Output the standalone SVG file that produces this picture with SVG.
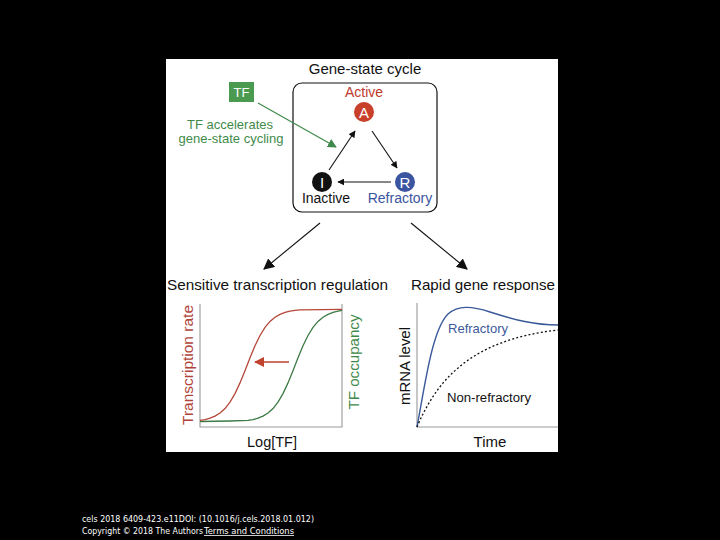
<svg xmlns="http://www.w3.org/2000/svg" width="720" height="540" viewBox="0 0 720 540">
<style>
text{font-family:"Liberation Sans",Arial,sans-serif}
.t{fill:#111}
.red{fill:#b8402f}
.grn{fill:#3f8a4a}
.blu{fill:#3c55a0}
.wht{fill:#fff}
.ltr{fill:#fff;font-size:15px}
.ln{fill:none;stroke:#111;stroke-width:1.1}
.foot{font-family:"DejaVu Sans",sans-serif;font-size:8px;fill:#fff}
</style>
<defs>
<marker id="ah" viewBox="0 0 10 10" refX="9" refY="5" markerWidth="7" markerHeight="7" markerUnits="userSpaceOnUse" orient="auto">
<path d="M0,0 L10,5 L0,10 Z" fill="#111"/>
</marker>
<marker id="ahBig" viewBox="0 0 10 10" refX="9" refY="5" markerWidth="11" markerHeight="11" markerUnits="userSpaceOnUse" orient="auto">
<path d="M0,0 L10,5 L0,10 Z" fill="#111"/>
</marker>
<marker id="ahG" viewBox="0 0 10 10" refX="9" refY="5" markerWidth="9" markerHeight="9" markerUnits="userSpaceOnUse" orient="auto">
<path d="M0,0 L10,5 L0,10 Z" fill="#3f8a4a"/>
</marker>
<marker id="ahR" viewBox="0 0 10 10" refX="9" refY="5" markerWidth="10" markerHeight="10" markerUnits="userSpaceOnUse" orient="auto">
<path d="M0,0 L10,5 L0,10 Z" fill="#c0412e"/>
</marker>
</defs>
<rect x="0" y="0" width="720" height="540" fill="#000"/>
<rect x="166" y="59" width="392" height="393" fill="#fff"/>

<text class="t" x="365" y="74" font-size="15" text-anchor="middle">Gene-state cycle</text>

<g id="cycle-box">
<rect x="293" y="83" width="144" height="129" rx="9" fill="none" stroke="#111" stroke-width="1.2"/>
</g>

<g id="tf">
<rect x="229" y="82" width="25" height="20" fill="#4a9a50"/>
<text class="wht" x="241.5" y="97" font-size="13" text-anchor="middle">TF</text>
<text class="grn" x="230" y="129" font-size="13" text-anchor="middle">TF accelerates</text>
<text class="grn" x="231" y="143" font-size="13" text-anchor="middle">gene-state cycling</text>
</g>

<g id="node-active">
<text x="364" y="97" font-size="14" text-anchor="middle" fill="#c0392b">Active</text>
<circle cx="364" cy="112" r="10" fill="#c8402a"/>
<text class="ltr" x="364" y="117.5" text-anchor="middle">A</text>
</g>
<g id="node-inactive">
<circle cx="322" cy="182" r="10" fill="#111"/>
<text class="ltr" x="322" y="187.5" text-anchor="middle">I</text>
<text class="t" x="326" y="203" font-size="14" text-anchor="middle">Inactive</text>
</g>
<g id="node-refractory">
<circle cx="405" cy="182" r="10" fill="#3c55a0"/>
<text class="ltr" x="405" y="187.5" text-anchor="middle">R</text>
<text class="blu" x="400" y="203" font-size="14" text-anchor="middle">Refractory</text>
</g>

<g id="connectors">
<line class="ln" x1="329" y1="170" x2="355" y2="131" marker-end="url(#ah)"/>
<line class="ln" x1="372" y1="131" x2="397" y2="168" marker-end="url(#ah)"/>
<line class="ln" x1="391" y1="182" x2="338" y2="182" marker-end="url(#ah)"/>
<line x1="258" y1="103" x2="336" y2="147" stroke="#3f8a4a" stroke-width="1.2" marker-end="url(#ahG)"/>
<line class="ln" x1="320" y1="223" x2="264" y2="269" marker-end="url(#ahBig)"/>
<line class="ln" x1="411" y1="223" x2="467" y2="269" marker-end="url(#ahBig)"/>
</g>

<text class="t" x="167" y="290" font-size="15" textLength="221" lengthAdjust="spacingAndGlyphs">Sensitive transcription regulation</text>
<text class="t" x="411" y="290" font-size="15" textLength="144" lengthAdjust="spacingAndGlyphs">Rapid gene response</text>

<g id="plot-left">
<path d="M200,304 L200,427 L342,427 L342,304" fill="none" stroke="#999" stroke-width="1.1"/>
<polyline fill="none" stroke="#3d7a45" stroke-width="1.3" points="200,421.5 230,421 248,420.45 253,419.57 258,418.22 263,416.16 268,413.06 273,408.53 278,402.13 283,393.59 288,382.89 293,370.63 298,357.83 303,345.8 308,335.52 313,327.42 318,321.43 323,317.23 328,314.36 333,312.46 338,311.21 342,310.4"/>
<polyline fill="none" stroke="#b5473a" stroke-width="1.3" points="200,420.45 205,419.57 210,418.22 215,416.16 220,413.06 225,408.53 230,402.13 235,393.59 240,382.89 245,370.63 250,357.83 255,345.8 260,335.52 265,327.42 270,321.43 275,317.23 280,314.36 285,312.46 290,311.21 295,310.41 300,309.9 342,309.4"/>
<line x1="289" y1="362" x2="255" y2="362" stroke="#c0412e" stroke-width="1.6" marker-end="url(#ahR)"/>
<text x="193" y="365" font-size="15" text-anchor="middle" transform="rotate(-90 193 365)" fill="#b0443a" textLength="120" lengthAdjust="spacingAndGlyphs">Transcription rate</text>
<text class="grn" x="358.5" y="362" font-size="15" text-anchor="middle" transform="rotate(-90 358.5 362)" textLength="95" lengthAdjust="spacingAndGlyphs">TF occupancy</text>
<text class="t" x="272" y="447" font-size="14.5" text-anchor="middle">Log[TF]</text>
</g>

<g id="plot-right">
<path d="M417,303 L417,427 L558,427" fill="none" stroke="#999" stroke-width="1.1"/>
<path d="M417,427 C425,385 432,330 448,314 C458,305 472,306 490,312 C515,320 535,325 558,325" fill="none" stroke="#3a5a9a" stroke-width="1.4"/>
<path d="M417,427 C437,380 470,340 558,330" fill="none" stroke="#111" stroke-width="1.3" stroke-dasharray="2,2.2"/>
<text x="448" y="333" font-size="13" fill="#3c5a9a" textLength="60" lengthAdjust="spacingAndGlyphs">Refractory</text>
<text class="t" x="447" y="402" font-size="12.5" textLength="84" lengthAdjust="spacingAndGlyphs">Non-refractory</text>
<text class="t" x="409.5" y="366" font-size="15" text-anchor="middle" transform="rotate(-90 409.5 366)" textLength="78" lengthAdjust="spacingAndGlyphs">mRNA level</text>
<text class="t" x="490" y="447" font-size="15" text-anchor="middle">Time</text>
</g>

<g id="footer">
<text class="foot" x="82" y="522" textLength="232" lengthAdjust="spacingAndGlyphs">cels 2018 6409-423.e11DOI: (10.1016/j.cels.2018.01.012)</text>
<text class="foot" x="82" y="534" textLength="121" lengthAdjust="spacingAndGlyphs">Copyright © 2018 The Authors</text>
<text class="foot" x="204" y="534" textLength="90" lengthAdjust="spacingAndGlyphs" fill="#d8d8ff" text-decoration="underline">Terms and Conditions</text>
</g>
</svg>
